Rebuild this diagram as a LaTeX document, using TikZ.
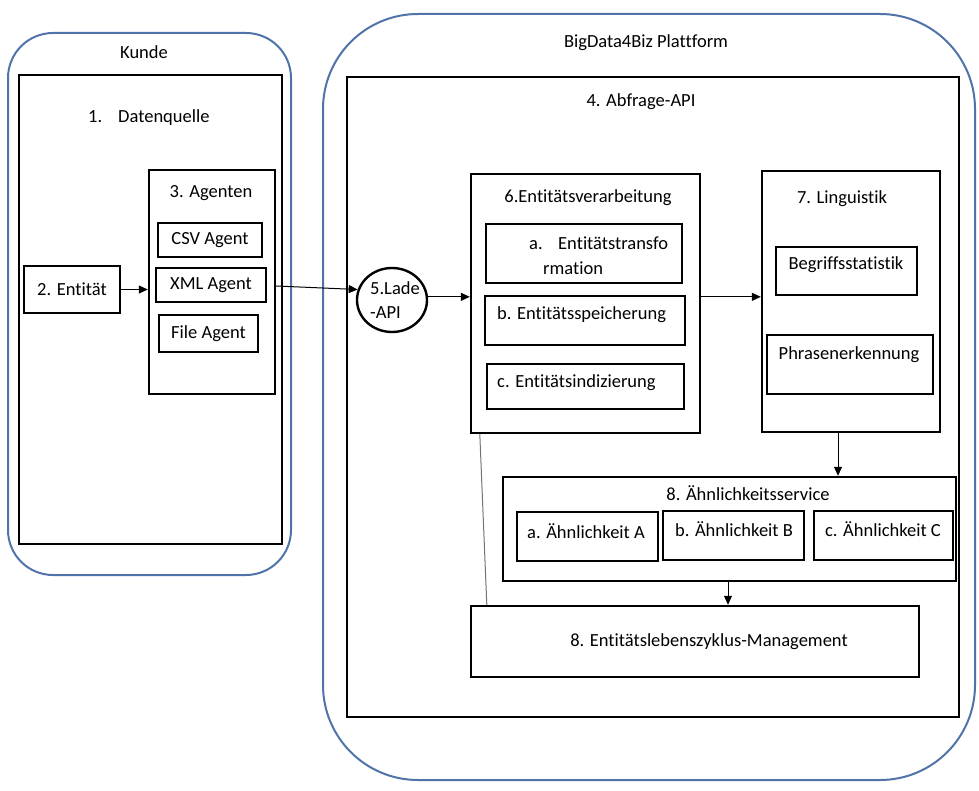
\documentclass[tikz,border=0pt]{standalone}
\usepackage{fontspec}
\setmainfont[Ligatures=NoCommon]{Carlito}
\usetikzlibrary{fit,arrows.meta,shapes.geometric}
\definecolor{frameblue}{RGB}{80,115,170}
\begin{document}
\begin{tikzpicture}[x=1pt,y=-1pt,
  font=\fontsize{18.5}{22}\selectfont,
  outerframe/.style={draw=frameblue, line width=2pt, rounded corners=#1, inner sep=0pt},
  bigbox/.style={draw=black, line width=2.4pt, inner sep=0pt},
  smallbox/.style={draw=black, line width=1.2pt, inner sep=0pt},
  lbl/.style={inner sep=0pt},
  conn/.style={line width=1pt, -{Triangle[length=9pt,width=8pt]}},
  plainline/.style={line width=1pt, draw=black!55},
]
\useasboundingbox (0,0) rectangle (979,791);

% outer frames
\node[outerframe=45pt, fit={(8,33)(291,575)}] (kunde) {};
\node[lbl] (kundelbl) at (144,52) {Kunde};
\node[outerframe=95pt, fit={(323,14)(975,780)}] (platform) {};
\node[lbl] (platformlbl) at (646,43) {BigData4Biz Plattform};

% Kunde side
\node[bigbox, fit={(19,75)(282,544)}] (dq) {};
\node[lbl, anchor=west] (dqlbl) at (88,118) {1.\hspace{16pt}Datenquelle};
\node[bigbox, fit={(149,170)(275,394)}] (agents) {};
\node[lbl] (agentslbl) at (211,193) {3. Agenten};
\node[smallbox, fit={(158,223)(262,257)}] (csv) {};
\node[lbl] at (csv.center) {CSV Agent};
\node[smallbox, fit={(156,268)(266,302)}] (xml) {};
\node[lbl] at (xml.center) {XML Agent};
\node[smallbox, fit={(159,315)(258,352)}] (file) {};
\node[lbl] at (file.center) {File Agent};
\node[bigbox, fit={(24,266)(120,313)}] (ent) {};
\node[lbl] at (ent.center) {2. Entität};

% Platform
\node[bigbox, fit={(347,77)(959,717)}] (api) {};
\node[lbl] (apilbl) at (641,102) {4. Abfrage-API};

\node[draw=black, line width=2.4pt, ellipse, minimum width=70pt, minimum height=64pt, inner sep=0pt] (lade) at (392,300) {};
\node[lbl, align=left, anchor=west, font=\fontsize{18.5}{24}\selectfont] (ladelbl) at (370,300) {5.Lade\\-API};

\node[bigbox, fit={(471,174)(700,433)}] (ev) {};
\node[lbl] (evlbl) at (588,198) {6.Entitätsverarbeitung};
\node[smallbox, fit={(486,224)(682,283)}] (eva) {};
\node[lbl, anchor=west, align=left, font=\fontsize{18.5}{25}\selectfont] at (529,255.5) {a.\hspace{15.5pt}Entitätstransfo\\\hspace{14pt}rmation};
\node[smallbox, fit={(485,296)(685,345)}] (evb) {};
\node[lbl, anchor=west] at (497,315) {b. Entitätsspeicherung};
\node[smallbox, fit={(487,364)(684,409)}] (evc) {};
\node[lbl, anchor=west] at (497,383) {c. Entitätsindizierung};

\node[bigbox, fit={(762,171)(940,432)}] (ling) {};
\node[lbl] (linglbl) at (842,199) {7. Linguistik};
\node[smallbox, fit={(776,247)(917,295)}] (begr) {};
\node[lbl] at (846,265) {Begriffsstatistik};
\node[smallbox, fit={(767,335)(933,394)}] (phr) {};
\node[lbl] at (849,355) {Phrasenerkennung};

\node[bigbox, fit={(503,477)(956,581)}] (sim) {};
\node[lbl] (simlbl) at (748,493) {8. Ähnlichkeitsservice};
\node[smallbox, fit={(517,512)(658,561)}] (sima) {};
\node[lbl] at (586,531) {a. Ähnlichkeit A};
\node[smallbox, fit={(663,511)(804,560)}] (simb) {};
\node[lbl] at (734,529) {b. Ähnlichkeit B};
\node[smallbox, fit={(814,511)(953,560)}] (simc) {};
\node[lbl] at (883,529) {c. Ähnlichkeit C};

\node[bigbox, fit={(471,606)(919,677)}] (elm) {};
\node[lbl] at (709,642) {8. Entitätslebenszyklus-Management};

% connectors
\draw[conn] (ent.east) -- (agents.west |- ent.east);
\draw[conn] ([yshift=-1pt]agents.east |- xml.east) -- (lade.163);
\draw[conn] (lade.5) -- (ev.west |- lade.5);
\draw[conn] (ev.east |- lade.5) -- (ling.west |- lade.5);
\draw[conn] ([xshift=-13pt]ling.south) -- ([xshift=-13pt]ling.south |- sim.north);
\draw[conn] ([xshift=-1.5pt]sim.south) -- ([xshift=-1.5pt]sim.south |- elm.north);
\draw[plainline] ([xshift=10pt]ev.south west) -- ([xshift=17pt]elm.north west);
\end{tikzpicture}
\end{document}
